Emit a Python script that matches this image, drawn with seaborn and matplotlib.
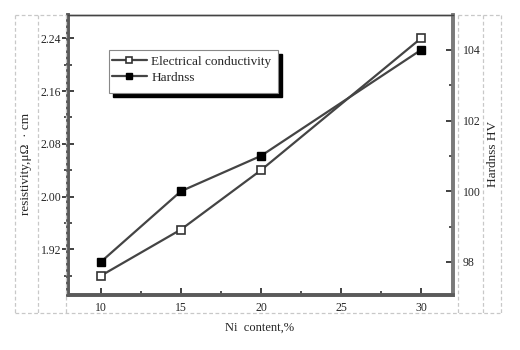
import matplotlib
matplotlib.use("Agg")
import matplotlib.pyplot as plt
from matplotlib.lines import Line2D
from matplotlib.patches import Rectangle
from matplotlib.ticker import MultipleLocator, FormatStrFormatter
import seaborn as sns
import pandas as pd

ni_content = [10, 15, 20, 30]
resistivity = [1.88, 1.95, 2.04, 2.24]
hardness = [98, 100, 101, 104]

sns.set_theme(style="white")
plt.rcParams["font.family"] = ["Liberation Serif", "DejaVu Serif"]

W, H = 520, 350
fig = plt.figure(figsize=(W / 100, H / 100), dpi=100)
# axes box in pixel coordinates
L, R, T, B = 68, 453, 15, 295
ax = fig.add_axes([L / W, 1 - B / H, (R - L) / W, (B - T) / H])
ax2 = ax.twinx()

df = pd.DataFrame({"ni": ni_content, "rho": resistivity, "hv": hardness})
line_col = "#444444"
sns.lineplot(data=df, x="ni", y="rho", ax=ax, color=line_col, lw=1.6,
             marker="s", markersize=5.5, markerfacecolor="white",
             markeredgecolor="#333333", markeredgewidth=1.2)
sns.lineplot(data=df, x="ni", y="hv", ax=ax2, color=line_col, lw=1.6,
             marker="s", markersize=5.5, markerfacecolor="black",
             markeredgecolor="black", markeredgewidth=1.0)

ax.set_xlim(7.94, 32.0)
ax.set_ylim(1.8507, 2.2753)
ax2.set_ylim(97.06, 104.99)

ax.xaxis.set_major_locator(MultipleLocator(5))
ax.xaxis.set_minor_locator(MultipleLocator(2.5))
ax.yaxis.set_major_locator(MultipleLocator(0.08))
ax.yaxis.set_minor_locator(MultipleLocator(0.04))
ax.yaxis.set_major_formatter(FormatStrFormatter("%.2f"))
ax2.yaxis.set_major_locator(MultipleLocator(2))
ax2.yaxis.set_minor_locator(MultipleLocator(1))

tick_col = "#333333"
ax.tick_params(axis="y", which="major", direction="inout", length=8, width=1.3,
               color=tick_col, labelsize=8.5, pad=1, left=True, right=False)
ax.tick_params(axis="y", which="minor", direction="inout", length=6, width=1.2,
               color=tick_col, left=True, right=False)
ax.tick_params(axis="x", which="major", direction="in", length=5, width=1.3,
               color=tick_col, labelsize=8.5, pad=5, bottom=True, top=False)
ax.tick_params(axis="x", which="minor", direction="in", length=3, width=1.2,
               color=tick_col, bottom=True, top=False)
ax2.tick_params(axis="y", which="major", direction="in", length=5, width=1.3,
                color=tick_col, labelsize=8.5, pad=7, right=True, left=False)
ax2.tick_params(axis="y", which="minor", direction="in", length=3, width=1.2,
                color=tick_col, right=True, left=False)

for a in (ax, ax2):
    a.spines["left"].set(linewidth=2.6, color="#5a5a5a")
    a.spines["bottom"].set(linewidth=2.6, color="#5a5a5a")
    a.spines["right"].set(linewidth=2.6, color="#7a7a7a")
    a.spines["top"].set(linewidth=1.0, color="#444444")

ax.set_xlabel("")
ax.set_ylabel("")
ax2.set_ylabel("")

# axis titles
fig.text(260 / W, 1 - 328 / H, "Ni  content,%", ha="center", va="center", fontsize=9)
fig.text(26 / W, 1 - 164 / H, "resistivity,μΩ  · cm", ha="center", va="center",
         rotation=90, fontsize=9.5)
fig.text(493 / W, 1 - 154 / H, "Hardnss HV", ha="center", va="center",
         rotation=90, fontsize=9.5)

# dashed text-frame outlines around the label areas
dash = dict(color="#c8c8c8", lw=0.9, ls=(0, (3, 2)), transform=None)
def px_line(xs, ys):
    fig.add_artist(Line2D([x for x in xs], [H - y for y in ys], **dash))
for x in (15, 38, 66, 458, 483, 501):
    px_line([x, x], [15, 313])
px_line([15, 501], [313, 313])
px_line([15, 66], [15, 15])
px_line([458, 501], [15, 15])

# legend with drop shadow
handles = [
    Line2D([], [], color=line_col, lw=1.6, marker="s", markersize=5,
           markerfacecolor="white", markeredgecolor="#333333", markeredgewidth=1.2),
    Line2D([], [], color=line_col, lw=1.6, marker="s", markersize=5,
           markerfacecolor="black", markeredgecolor="black"),
]
labels = ["Electrical conductivity", "Hardnss"]
lx0, ly0, lx1, ly1 = 109, 50, 278, 93
fig.add_artist(Rectangle((lx0 + 4, H - ly1 - 4), lx1 - lx0, ly1 - ly0,
                         transform=None, facecolor="black", edgecolor="black", zorder=5))
fig.add_artist(Rectangle((lx0, H - ly1), lx1 - lx0, ly1 - ly0,
                         transform=None, facecolor="white", edgecolor="#888888",
                         lw=0.8, zorder=6))
leg = fig.legend(handles, labels, loc="upper left",
                 bbox_to_anchor=(lx0 / W, 1 - (ly0 + 2) / H), frameon=False,
                 fontsize=9.5, handlelength=2.6, handletextpad=0.35,
                 labelspacing=0.3, borderaxespad=0, borderpad=0.25)
leg.set_zorder(7)

fig.savefig("out.png", dpi=100)
